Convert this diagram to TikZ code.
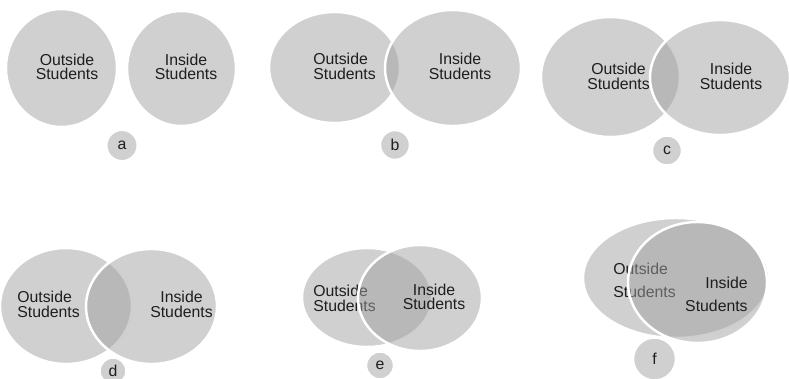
\documentclass[tikz,border=0pt]{standalone}
\usepackage{fontspec}
\setmainfont{Liberation Sans}
\usepackage{tikz}
\usepackage{xcolor}

\definecolor{colorOne}{HTML}{A1A1A1}
\definecolor{colorTwo}{HTML}{FFFFFF}
\definecolor{colorThree}{HTML}{D0D0D0}
\definecolor{colorFour}{HTML}{1E1E1E}
\def\colorOne{colorOne}
\def\colorTwo{colorTwo}
\def\colorThree{colorThree}
\def\colorFour{colorFour}

\tikzset{
    venn/.style={fill=\colorOne, fill opacity=0.5, draw=\colorTwo, line width=1.4pt},
    texte/.style={text=\colorFour, font=\fontsize{9}{8.2}\selectfont, align=center, inner sep=0pt},
    pastille/.style={circle, fill=\colorThree, draw=\colorTwo, line width=1.4pt, inner sep=0pt,
        text=\colorFour, font=\fontsize{9}{10}\selectfont},
}

\begin{document}
\begin{tikzpicture}[x=0.02cm, y=-0.02cm]

    \useasboundingbox (0,0) rectangle (789,379);

    % a : deux groupes separes
    \filldraw[venn] (61.5,68) ellipse [x radius=55.5, y radius=59];
    \node[texte] (outA) at (67,67) {Outside\\Students};
    \filldraw[venn] (181.5,68.5) ellipse [x radius=54.5, y radius=57.5];
    \node[texte] (inA) at (186,67) {Inside\\Students};
    \node[pastille, minimum size=0.63cm] (labA) at (122,145.5) {a};

    % b : petit recouvrement
    \filldraw[venn] (334.5,67.5) ellipse [x radius=65.5, y radius=55.5];
    \node[texte, align=left, anchor=west] (outB) at (313,66.5) {Outside\\Students};
    \filldraw[venn] (453,68) ellipse [x radius=68, y radius=58];
    \node[texte] (inB) at (460,66.5) {Inside\\Students};
    \node[pastille, minimum size=0.6cm] (labB) at (395,145) {b};

    % c
    \filldraw[venn] (610.5,77) ellipse [x radius=69.5, y radius=60];
    \node[texte] (outC) at (618.5,76.5) {Outside\\Students};
    \filldraw[venn] (720,77.5) ellipse [x radius=70, y radius=57.5];
    \node[texte] (inC) at (731,76.5) {Inside\\Students};
    \node[pastille, minimum size=0.6cm] (labC) at (667,150.5) {c};

    % d
    \filldraw[venn] (66,306) ellipse [x radius=66, y radius=58];
    \node[texte, align=left, anchor=west] (outD) at (17,304.5) {Outside\\Students};
    \filldraw[venn] (151.5,306.5) ellipse [x radius=65.5, y radius=57.5];
    \node[texte] (inD) at (181.5,304.5) {Inside\\Students};
    \node[pastille, minimum size=0.54cm] (labD) at (113,371) {d};

    % e
    \filldraw[venn] (367,297.5) ellipse [x radius=65, y radius=49.5];
    \node[texte, align=left, anchor=west] (outE) at (313,298.5) {Outside\\Students};
    \filldraw[venn] (420,298) ellipse [x radius=62, y radius=53];
    \node[texte] (inE) at (434,297) {Inside\\Students};
    \node[pastille, minimum size=0.56cm] (labE) at (380,365.5) {e};

    % f : presque tout le groupe
    \filldraw[venn] (676,278) ellipse [x radius=93, y radius=60];
    \node[texte, align=left, anchor=west, font=\fontsize{9}{13.2}\selectfont] (outF) at (613,280) {Outside\\Students};
    \filldraw[venn] (697.5,282.5) ellipse [x radius=69.5, y radius=60.5];
    \node[texte, align=right, anchor=east, font=\fontsize{9}{13.2}\selectfont] (inF) at (748,294.5) {Inside\\Students};
    \node[pastille, minimum size=0.86cm] (labF) at (654.5,359) {f};

\end{tikzpicture}
\end{document}
